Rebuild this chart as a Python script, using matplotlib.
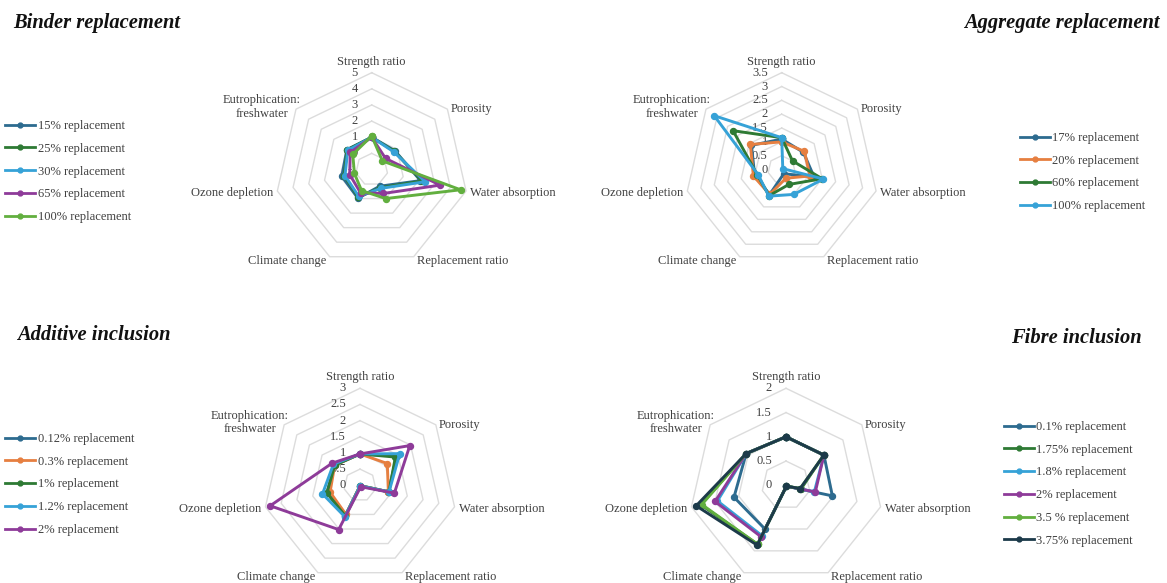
import numpy as np
import matplotlib
matplotlib.use("Agg")
import matplotlib.pyplot as plt
from matplotlib.lines import Line2D

plt.rcParams['font.family'] = ['Liberation Serif', 'DejaVu Serif']

# ---------------- data ----------------
categories = ["Strength ratio", "Porosity", "Water absorption", "Replacement ratio",
              "Climate change", "Ozone depletion", "Eutrophication:\nfreshwater"]

# Binder replacement
binder_labels = ["15% replacement", "25% replacement", "30% replacement",
                 "65% replacement", "100% replacement"]
binder_15 = [1.00, 0.85, 2.10, 0.15, 0.97, 0.90, 0.97]
binder_25 = [1.00, 0.80, 2.20, 0.25, 0.90, 0.75, 0.95]
binder_30 = [1.00, 0.75, 2.40, 0.30, 0.85, 0.70, 0.90]
binder_65 = [1.00, 0.10, 3.35, 0.65, 0.60, 0.40, 0.70]
binder_100 = [1.08, -0.15, 4.65, 1.00, 0.45, 0.10, 0.50]
binder_ticks = [-1, 0, 1, 2, 3, 4, 5]

# Aggregate replacement
agg_labels = ["17% replacement", "20% replacement", "60% replacement", "100% replacement"]
agg_17 = [1.10, 1.00, 1.20, 0.17, 1.00, 1.00, 1.40]
agg_20 = [1.00, 1.05, 1.05, 0.35, 1.00, 1.05, 1.45]
agg_60 = [1.15, 0.50, 1.50, 0.60, 1.05, 0.90, 2.25]
agg_100 = [1.15, 0.05, 1.55, 1.00, 1.07, 0.87, 3.12]
agg_ticks = [0, 0.5, 1, 1.5, 2, 2.5, 3, 3.5]

# Additive inclusion
add_labels = ["0.12% replacement", "0.3% replacement", "1% replacement",
              "1.2% replacement", "2% replacement"]
add_012 = [0.97, 1.45, 0.90, 0.01, 1.05, 1.05, 1.00]
add_03 = [0.97, 1.08, 0.90, 0.01, 1.00, 0.95, 1.00]
add_1 = [0.97, 1.40, 0.92, 0.02, 1.05, 1.05, 1.00]
add_12 = [0.97, 1.57, 0.92, 0.02, 1.08, 1.19, 1.05]
add_2 = [0.97, 1.97, 1.09, 0.05, 1.52, 2.85, 1.10]
add_ticks = [0, 0.5, 1, 1.5, 2, 2.5, 3]

# Fibre inclusion
fib_labels = ["0.1% replacement", "1.75% replacement", "1.8% replacement",
              "2% replacement", "3.5 % replacement", "3.75% replacement"]
fib_01 = [1.00, 1.00, 0.98, 0.02, 1.00, 1.10, 1.05]
fib_175 = [1.00, 1.00, 0.32, 0.02, 1.35, 1.80, 1.05]
fib_18 = [1.00, 1.00, 0.60, 0.02, 1.15, 1.45, 1.05]
fib_2 = [1.00, 1.00, 0.62, 0.02, 1.18, 1.50, 1.05]
fib_35 = [1.00, 1.00, 0.30, 0.02, 1.35, 1.78, 1.05]
fib_375 = [1.00, 1.00, 0.30, 0.02, 1.37, 1.90, 1.05]
fib_ticks = [0, 0.5, 1, 1.5, 2]

# ---------------- style ----------------
TEAL = '#2D6B8F'
DKGREEN = '#2E7A34'
LTBLUE = '#36A2D7'
PURPLE = '#8E3B99'
LTGREEN = '#62AF3F'
ORANGE = '#E67F40'
NAVY = '#1C3A4A'
GRID = '#DCDCDC'
TXT = '#404040'

W, H = 1167, 583
fig = plt.figure(figsize=(W / 100, H / 100), dpi=100)

n = len(categories)
theta = np.arange(n) * 2 * np.pi / n
theta_closed = np.append(theta, theta[0])

# label offsets (pixels) and alignment around each spoke
lab_cfg = [
    ((0, 11), 'center', 'center'),
    ((3, 0), 'left', 'center'),
    ((4, -2), 'left', 'center'),
    ((3, -4), 'left', 'center'),
    ((-3, -4), 'right', 'center'),
    ((-4, -2), 'right', 'center'),
    ((5, 2), 'right', 'center'),
]


def radar(cx, cy, R, ticks, series, colors):
    rect = [(cx - R) / W, 1 - (cy + R) / H, 2 * R / W, 2 * R / H]
    ax = fig.add_axes(rect, projection='polar')
    ax.set_theta_offset(np.pi / 2)
    ax.set_theta_direction(-1)
    ax.set_ylim(ticks[0], ticks[-1])
    ax.set_xticks([])
    ax.set_yticks([])
    ax.grid(False)
    ax.spines['polar'].set_visible(False)
    ax.patch.set_visible(False)

    # heptagonal gridlines
    for v in ticks[1:]:
        ax.plot(theta_closed, [v] * (n + 1), color=GRID, lw=1.0, zorder=1,
                clip_on=False)
    # value labels beside the top spoke
    for v in ticks:
        ax.annotate('%g' % v, xy=(0, v), xytext=(-14, 0),
                    textcoords='offset pixels', ha='right', va='center',
                    fontsize=9, color=TXT, zorder=2, annotation_clip=False)
    # category labels at the outer vertices
    for i, cat in enumerate(categories):
        (dx, dy), ha, va = lab_cfg[i]
        ax.annotate(cat, xy=(theta[i], ticks[-1]), xytext=(dx, dy),
                    textcoords='offset pixels', ha=ha, va=va,
                    multialignment='center', fontsize=9, color=TXT,
                    annotation_clip=False, linespacing=1.15)
    for vals, col in zip(series, colors):
        ax.plot(theta_closed, list(vals) + [vals[0]], color=col, lw=2.1,
                marker='o', markersize=4.3, zorder=3, clip_on=False)
    return ax


radar(371.7, 169.5, 96.8, binder_ticks,
      [binder_15, binder_25, binder_30, binder_65, binder_100],
      [TEAL, DKGREEN, LTBLUE, PURPLE, LTGREEN])
radar(781.7, 169.5, 96.8, agg_ticks,
      [agg_17, agg_20, agg_60, agg_100],
      [TEAL, ORANGE, DKGREEN, LTBLUE])
radar(360, 485.3, 97, add_ticks,
      [add_012, add_03, add_1, add_12, add_2],
      [TEAL, ORANGE, DKGREEN, LTBLUE, PURPLE])
radar(786, 485.3, 97, fib_ticks,
      [fib_01, fib_175, fib_18, fib_2, fib_35, fib_375],
      [TEAL, DKGREEN, LTBLUE, PURPLE, LTGREEN, NAVY])


def legend(labels, colors, x, y):
    handles = [Line2D([], [], color=c, lw=2.0, marker='o', markersize=3.5)
               for c in colors]
    fig.legend(handles, labels, loc='upper left',
               bbox_to_anchor=(x / W, 1 - y / H), frameon=False,
               fontsize=9, handlelength=2.4, handletextpad=0.2,
               labelspacing=0.86, borderpad=0, borderaxespad=0,
               labelcolor=TXT)


legend(binder_labels, [TEAL, DKGREEN, LTBLUE, PURPLE, LTGREEN], 5, 120)
legend(agg_labels, [TEAL, ORANGE, DKGREEN, LTBLUE], 1020, 132)
legend(add_labels, [TEAL, ORANGE, DKGREEN, LTBLUE, PURPLE], 5, 433)
legend(fib_labels, [TEAL, DKGREEN, LTBLUE, PURPLE, LTGREEN, NAVY], 1004, 421)

title_kw = dict(fontsize=14.8, fontweight='bold', fontstyle='italic', color='#111111',
                va='center')
fig.text(13 / W, 1 - 23 / H, "Binder replacement", ha='left', **title_kw)
fig.text(1160 / W, 1 - 23 / H, "Aggregate replacement", ha='right', **title_kw)
fig.text(17 / W, 1 - 335 / H, "Additive inclusion", ha='left', **title_kw)
fig.text(1142 / W, 1 - 338 / H, "Fibre inclusion", ha='right', **title_kw)

fig.savefig("out.png", dpi=100, facecolor='white')
